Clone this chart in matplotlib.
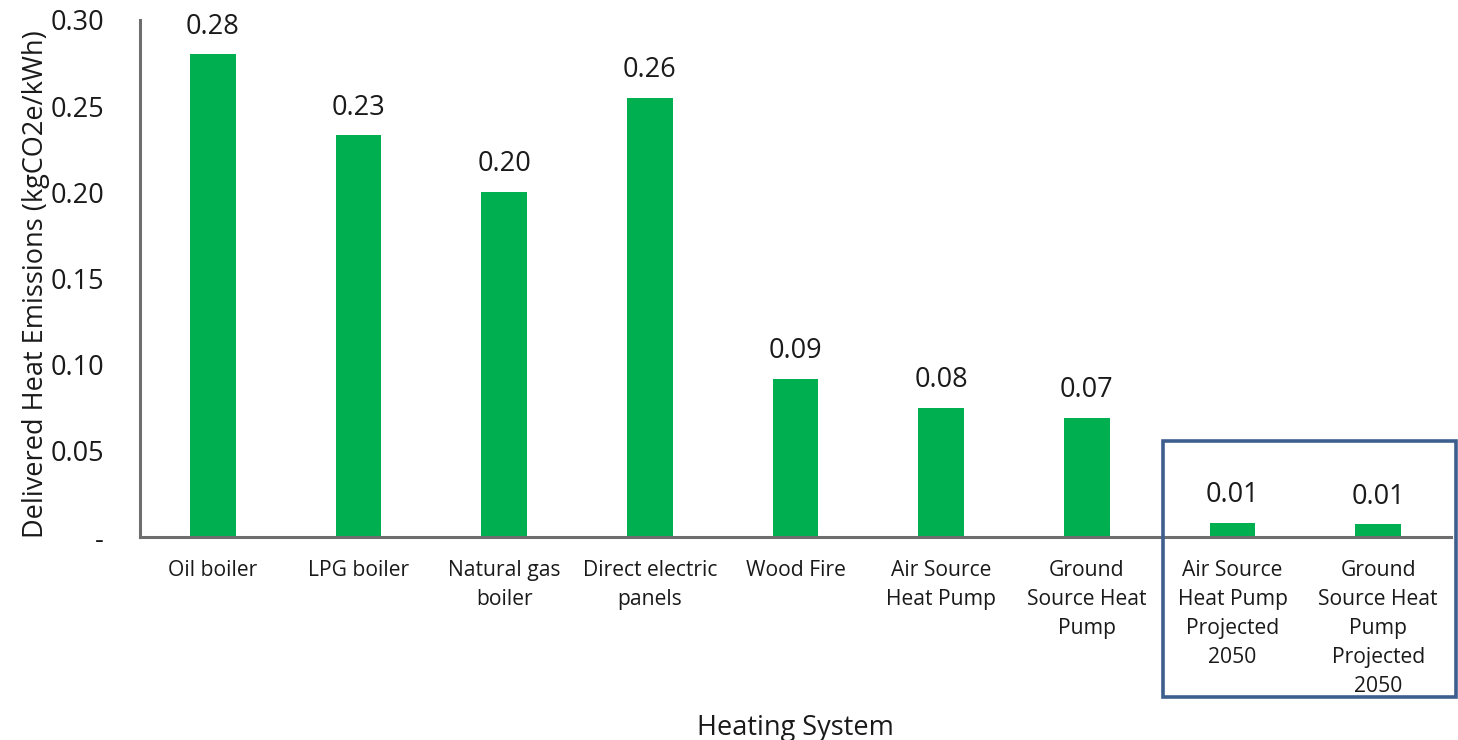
import matplotlib
matplotlib.use("Agg")
import matplotlib.pyplot as plt
from matplotlib.patches import Rectangle

categories = ["Oil boiler", "LPG boiler", "Natural gas\nboiler", "Direct electric\npanels",
              "Wood Fire", "Air Source\nHeat Pump", "Ground\nSource Heat\nPump",
              "Air Source\nHeat Pump\nProjected\n2050", "Ground\nSource Heat\nPump\nProjected\n2050"]
values = [0.280, 0.233, 0.200, 0.255, 0.0915, 0.075, 0.069, 0.0081, 0.0073]
value_labels = ["0.28", "0.23", "0.20", "0.26", "0.09", "0.08", "0.07", "0.01", "0.01"]
yticks = [0, 0.05, 0.10, 0.15, 0.20, 0.25, 0.30]
ytick_labels = ["-", "0.05", "0.10", "0.15", "0.20", "0.25", "0.30"]

plt.rcParams['font.family'] = ['Open Sans', 'DejaVu Sans']

fig = plt.figure(figsize=(14.58, 7.40), dpi=100)
ax = fig.add_axes([140/1458, 1-537/740, (1451-140)/1458, (537-20)/740])

x = list(range(len(categories)))
ax.bar(x, values, width=0.315, color="#00B050", zorder=2)
for xi, v, lab in zip(x, values, value_labels):
    ax.annotate(lab, (xi, v), xytext=(0, 10), textcoords="offset points",
                ha="center", va="bottom", fontsize=19.5, color="#1a1a1a")

ax.set_xlim(-0.5, len(categories) - 0.5)
ax.set_ylim(0, 0.30)
ax.set_yticks(yticks)
ax.set_yticklabels(ytick_labels, fontsize=19.5, color="#1a1a1a")
ax.set_xticks(x)
ax.set_xticklabels(categories, fontsize=15.2, color="#1a1a1a", linespacing=1.5, va="top")
ax.tick_params(axis="y", length=0, pad=26)
ax.tick_params(axis="x", length=0, pad=16.5)

for s in ["top", "right"]:
    ax.spines[s].set_visible(False)
for s in ["left", "bottom"]:
    ax.spines[s].set_color("#6e6e6e")
    ax.spines[s].set_linewidth(2.2)

ax.set_ylabel("Delivered Heat Emissions (kgCO2e/kWh)", fontsize=19.5, color="#1a1a1a")
ax.yaxis.set_label_coords(-90/1311, 0.49)
ax.set_xlabel("Heating System", fontsize=19.5, color="#1a1a1a")
ax.xaxis.set_label_coords(0.5, -(714-537)/517)

box = Rectangle((1163/1458, 1-697/740), (1456-1163)/1458, (697-441)/740,
                transform=fig.transFigure, fill=False, edgecolor="#3D5F8E", linewidth=2.6)
fig.patches.append(box)

fig.savefig("out.png", dpi=100)
